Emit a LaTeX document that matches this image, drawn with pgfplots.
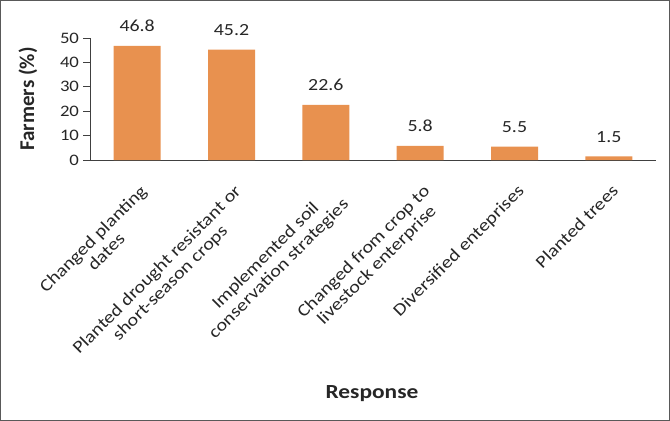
\documentclass[border=0pt]{standalone}
\usepackage{pgfplots}
\pgfplotsset{compat=1.18}
\usepackage{fontspec}
\setmainfont{Carlito}[FakeStretch=1.17]
\newfontfamily\ylabfont{Carlito}
\definecolor{barorange}{HTML}{E8914F}
\definecolor{axgray}{HTML}{404040}
\definecolor{txt}{HTML}{262626}
\begin{document}
\begin{tikzpicture}[x=1bp,y=1bp]
\path[use as bounding box] (-90bp,-261bp) rectangle (580bp,160bp);
\draw[line width=1.4bp, draw=black!65] (-89.3bp,-260.3bp) rectangle (579.3bp,159.3bp);
\begin{axis}[
  at={(0,0)}, anchor=south west,
  scale only axis,
  width=566bp, height=122bp,
  xmin=-0.5, xmax=5.5,
  ymin=0, ymax=50,
  ytick={0,10,20,30,40,50},
  axis x line*=bottom,
  axis y line*=left,
  axis line style={draw=axgray, line width=0.8bp},
  x axis line style={-},
  y axis line style={-},
  xtick={0,1,2,3,4,5},
  xticklabels={{Changed planting\\dates},{Planted drought resistant or\\short-season crops},{Implemented soil\\conservation strategies},{Changed from crop to\\livestock enterprise},{Diversified enteprises},{Planted trees}},
  extra x ticks={-0.5,0.5,1.5,2.5,3.5,4.5,5.5},
  extra x tick labels={},
  extra x tick style={tick style={draw=axgray, line width=0.8bp}},
  major x tick style={draw=none},
  x tick label style={xshift=2bp, yshift=-17bp, rotate=45, anchor=north east, align=center, font=\fontsize{17.3bp}{18.5bp}\selectfont, text=txt, inner sep=0bp},
  y tick label style={font=\fontsize{16bp}{17bp}\selectfont, text=txt, xshift=-1bp},
  /pgf/number format/assume math mode=true,
  ytick style={draw=axgray, line width=0.8bp},
  tick align=outside,
  major tick length=6.5bp,
  xlabel={\textbf{Response}},
  xlabel style={font=\fontsize{20bp}{21bp}\selectfont, at={(axis description cs:0.5,0)}, anchor=base, yshift=-238bp, xshift=-1bp, text=txt},
  ybar, bar width=47bp,
  nodes near coords,
  every node near coord/.append style={font=\fontsize{17bp}{18bp}\selectfont, text=txt, anchor=base, inner sep=0pt, yshift=14bp},
  point meta=explicit symbolic,
  clip=false,
]
\addplot[fill=barorange, draw=none] coordinates {
 (0,46.8) [46.8]
 (1,45.2) [45.2]
 (2,22.6) [22.6]
 (3,5.8) [5.8]
 (4,5.5) [5.5]
 (5,1.5) [1.5]
};
\node[font=\ylabfont\bfseries\fontsize{21bp}{22bp}\selectfont, text=txt, xshift=-62bp, rotate=90, anchor=center] at (rel axis cs:0,0.5) {Farmers (\%)};
\end{axis}
\end{tikzpicture}
\end{document}
